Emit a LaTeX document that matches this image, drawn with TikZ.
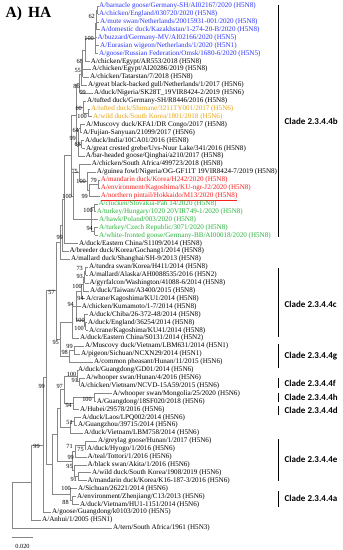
\documentclass[tikz,border=0pt]{standalone}
\usepackage{fontspec}
\setmainfont{Liberation Serif}
\newfontfamily\cladefont{Carlito}
\usetikzlibrary{calc}
\definecolor{cblue}{RGB}{45,55,250}
\definecolor{corange}{RGB}{232,162,20}
\definecolor{cred}{RGB}{250,30,30}
\definecolor{cgreen}{RGB}{40,178,60}
\definecolor{cline}{RGB}{135,135,135}
\newcommand\lf[4]{\node[tx,#3] (L#1) at (#2-0.8,{-(6+7.91*(#1-1))}) {#4};}
\newcommand\tnode[5]{%
  \path let \p1=(#3), \p2=(#4) in (#2pt,{0.5*(\y1+\y2)}) coordinate (#1);%
  \draw[br] (#1 |- #3) -- (#1 |- #4);%
  \foreach \cc in {#5}{\draw[br] (#1 |- \cc) -- (\cc);}%
}
\newcommand\bsv[3]{\node[bs] at (#1,-#2) {#3};}
\newcommand\clade[5]{% name, top, bottom, label y, text
  \coordinate (#1a) at (278,-#2); \coordinate (#1b) at (278,-#3);
  \draw[cbar] (#1a) -- (#1b);
  \node[cl] (#1t) at (284.5,-#4) {#5};}
\begin{document}
\begin{tikzpicture}[x=1pt,y=1pt,
  br/.style={draw=cline, line width=0.5pt},
  tx/.style={font=\fontsize{7.1}{8}\selectfont, anchor=west, inner xsep=0.8pt, inner ysep=0pt, text height=5pt, text depth=1.6pt},
  bs/.style={font=\fontsize{6.3}{7}\selectfont, anchor=east, inner sep=0pt},
  cl/.style={font=\cladefont\bfseries\fontsize{9}{10}\selectfont, anchor=west, inner sep=0pt},
  cbar/.style={draw=black, line width=0.9pt}]
\useasboundingbox (0,0) rectangle (343,-550);
\node[anchor=west, inner sep=0pt, font=\bfseries\fontsize{15.5}{16}\selectfont] (title) at (5.5,-13.5) {A)\hspace{6pt}HA};
% leaves
\lf{1}{99}{cblue}{A/barnacle goose/Germany-SH/AI02167/2020 (H5N8)}
\lf{2}{99}{cblue}{A/chicken/England/030720/2020 (H5N8)}
\lf{3}{100}{cblue}{A/mute swan/Netherlands/20015931-001/2020 (H5N8)}
\lf{4}{100.7}{cblue}{A/domestic duck/Kazakhstan/1-274-20-B/2020 (H5N8)}
\lf{5}{97.3}{cblue}{A/buzzard/Germany-MV/AI02166/2020 (H5N5)}
\lf{6}{100}{cblue}{A/Eurasian wigeon/Netherlands/1/2020 (H5N1)}
\lf{7}{99}{cblue}{A/goose/Russian Federation/Omsk/1680-6/2020 (H5N5)}
\lf{8}{90.7}{}{A/chicken/Egypt/AR553/2018 (H5N8)}
\lf{9}{92}{}{A/chicken/Egypt/AI20286/2019 (H5N8)}
\lf{10}{90}{}{A/chicken/Tatarstan/7/2018 (H5N8)}
\lf{11}{88}{}{A/great black-backed gull/Netherlands/1/2017 (H5N6)}
\lf{12}{94}{}{A/duck/Nigeria/SK28T\_19VIR8424-2/2019 (H5N6)}
\lf{13}{87}{}{A/tufted duck/Germany-SH/R8446/2016 (H5N8)}
\lf{14}{91}{corange}{A/tufted duck/Shimane/3211TY001/2017 (H5N6)}
\lf{15}{93}{corange}{A/wild duck/South Korea/1801/2018 (H5N6)}
\lf{16}{86}{}{A/Muscovy duck/KFA1/DR Congo/2017 (H5N8)}
\lf{17}{83}{}{A/Fujian-Sanyuan/21099/2017 (H5N6)}
\lf{18}{85}{}{A/duck/India/10CA01/2016 (H5N8)}
\lf{19}{86}{}{A/great crested grebe/Uvs-Nuur Lake/341/2016 (H5N8)}
\lf{20}{85.7}{}{A/bar-headed goose/Qinghai/a210/2017 (H5N8)}
\lf{21}{91.7}{}{A/chicken/South Africa/499723/2018 (H5N8)}
\lf{22}{96.7}{}{A/guinea fowl/Nigeria/OG-GF11T 19VIR8424-7/2019 (H5N8)}
\lf{23}{100.7}{cred}{A/mandarin duck/Korea/H242/2020 (H5N8)}
\lf{24}{100.7}{cred}{A/environment/Kagoshima/KU-ngr-J2/2020 (H5N8)}
\lf{25}{100.7}{cred}{\underline{A/northern pintail/Hokkaido/M13/2020 (H5N8)}}
\lf{26}{98.3}{cgreen}{A/chicken/Slovakia-Pah 14/2020 (H5N8)}
\lf{27}{96.7}{cgreen}{A/turkey/Hungary/1020 20VIR749-1/2020 (H5N8)}
\lf{28}{99}{cgreen}{A/hawk/Poland/003/2020 (H5N8)}
\lf{29}{99}{cgreen}{A/turkey/Czech Republic/3071/2020 (H5N8)}
\lf{30}{99}{cgreen}{A/white-fronted goose/Germany-BB/AI00018/2020 (H5N8)}
\lf{31}{79}{}{A/duck/Eastern China/S1109/2014 (H5N8)}
\lf{32}{69.3}{}{A/breeder duck/Korea/Gochang1/2014 (H5N8)}
\lf{33}{71}{}{A/mallard duck/Shanghai/SH-9/2013 (H5N8)}
\lf{34}{89}{}{A/tundra swan/Korea/H411/2014 (H5N8)}
\lf{35}{89}{}{A/mallard/Alaska/AH0088535/2016 (H5N2)}
\lf{36}{89.3}{}{A/gyrfalcon/Washington/41088-6/2014 (H5N8)}
\lf{37}{90}{}{A/duck/Taiwan/A3400/2015 (H5N8)}
\lf{38}{86}{}{A/crane/Kagoshima/KU1/2014 (H5N8)}
\lf{39}{81.7}{}{A/chicken/Kumamoto/1-7/2014 (H5N8)}
\lf{40}{89}{}{A/duck/Chiba/26-372-48/2014 (H5N8)}
\lf{41}{88}{}{A/duck/England/36254/2014 (H5N8)}
\lf{42}{89}{}{A/crane/Kagoshima/KU41/2014 (H5N8)}
\lf{43}{80}{}{A/duck/Eastern China/S0131/2014 (H5N2)}
\lf{44}{85}{}{A/Muscovy duck/Vietnam/LBM631/2014 (H5N1)}
\lf{45}{81}{}{A/pigeon/Sichuan/NCXN29/2014 (H5N1)}
\lf{46}{94}{}{A/common pheasant/Hunan/11/2015 (H5N6)}
\lf{47}{78}{}{A/duck/Guangdong/GD01/2014 (H5N6)}
\lf{48}{86}{}{A/whooper swan/Hunan/4/2016 (H5N6)}
\lf{49}{80}{}{A/chicken/Vietnam/NCVD-15A59/2015 (H5N6)}
\lf{50}{112.7}{}{A/whooper swan/Mongolia/25/2020 (H5N6)}
\lf{51}{96.7}{}{A/Guangdong/18SF020/2018 (H5N6)}
\lf{52}{80}{}{A/Hubei/29578/2016 (H5N6)}
\lf{53}{82}{}{A/duck/Laos/LPQ002/2014 (H5N6)}
\lf{54}{78}{}{A/Guangzhou/39715/2014 (H5N6)}
\lf{55}{84}{}{A/duck/Vietnam/LBM758/2014 (H5N6)}
\lf{56}{98}{}{A/greylag goose/Hunan/1/2017 (H5N6)}
\lf{57}{87}{}{A/duck/Hyogo/1/2016 (H5N6)}
\lf{58}{87.5}{}{A/teal/Tottori/1/2016 (H5N6)}
\lf{59}{87.5}{}{A/black swan/Akita/1/2016 (H5N6)}
\lf{60}{92}{}{A/wild duck/South Korea/1908/2019 (H5N6)}
\lf{61}{87.5}{}{A/mandarin duck/Korea/K16-187-3/2016 (H5N6)}
\lf{62}{78}{}{A/Sichuan/26221/2014 (H5N6)}
\lf{63}{77}{}{A/environment/Zhenjiang/C13/2013 (H5N6)}
\lf{64}{80}{}{A/duck/Vietnam/HU1-1151/2014 (H5N6)}
\lf{65}{52}{}{A/goose/Guangdong/k0103/2010 (H5N5)}
\lf{66}{42}{}{A/Anhui/1/2005 (H5N1)}
\lf{67}{113}{}{A/tern/South Africa/1961 (H5N3)}
% internal nodes (clade 2.3.4.4b)
\tnode{Nab}{97.5}{L1}{L2}{L1,L2}
\tnode{N62}{96.5}{Nab}{L3}{Nab,L3}
\tnode{N4}{96}{N62}{L4}{N62,L4}
\tnode{NB100}{95}{N4}{L7}{N4,L5,L6,L7}
\tnode{N68}{85}{NB100}{L8}{NB100,L8}
\tnode{N55}{82.5}{N68}{L10}{N68,L9,L10}
\tnode{N86}{81}{N55}{L11}{N55,L11}
\tnode{NNg}{79.5}{N86}{L12}{N86,L12}
\tnode{NB100b}{88}{L14}{L15}{L14,L15}
\tnode{N60}{83}{L13}{NB100b}{L13,NB100b}
\tnode{N64}{80}{L16}{L17}{L16,L17}
\tnode{N68b}{81.5}{L18}{L19}{L18,L19}
\tnode{N99c}{78.5}{N64}{N68b}{N64,N68b}
\tnode{NBA}{78}{N99c}{L20}{N99c,L20}
\tnode{Bup}{76.5}{NNg}{NBA}{NNg,N60,NBA}
\tnode{R1}{98.2}{L23}{L24}{L23,L24}
\tnode{R2}{89.3}{R1}{L25}{R1,L25}
\tnode{N87}{87}{L22}{R2}{L22,R2}
\tnode{N79}{79}{L21}{N87}{L21,N87}
\tnode{G2}{94}{L26}{L27}{L26,L27}
\tnode{G1}{94.5}{L29}{L30}{L29,L30}
\tnode{Gr}{91}{G2}{G1}{G2,L28,G1}
\tnode{N73}{73}{N79}{Gr}{N79,Gr}
\tnode{Broot}{71}{Bup}{N73}{Bup,N73}
\tnode{X99}{64}{Broot}{L31}{Broot,L31}
\tnode{Xbr}{62}{X99}{L32}{X99,L32}
\tnode{Xsh}{60}{Xbr}{L33}{Xbr,L33}
% clade c and g
\tnode{N73c}{85.5}{L34}{L35}{L34,L35}
\tnode{N93c}{84.5}{N73c}{L36}{N73c,L36}
\tnode{N100c}{83}{N93c}{L37}{N93c,L37}
\tnode{N94a}{81}{N100c}{L38}{N100c,L38}
\tnode{N100e}{85.5}{L41}{L42}{L41,L42}
\tnode{N100d}{84}{L40}{N100e}{L40,N100e}
\tnode{N94b}{76}{N94a}{N100d}{N94a,L39,N100d}
\tnode{Cr}{72}{N94b}{L43}{N94b,L43}
\tnode{N99g}{74}{L44}{L45}{L44,L45}
\tnode{N98}{69}{N99g}{L46}{N99g,L46}
\tnode{N95}{60}{Cr}{N98}{Cr,N98}
\tnode{N57}{56}{Xsh}{N95}{Xsh,N95}
% lower clades
\tnode{Nf}{79}{L48}{L49}{L48,L49}
\tnode{N100x}{77}{L47}{Nf}{L47,Nf}
\tnode{Nh}{94}{L50}{L51}{L50,L51}
\tnode{N94d}{73}{Nh}{L52}{Nh,L52}
\tnode{N97}{64}{N100x}{N94d}{N100x,N94d}
\tnode{N51}{74}{L53}{L54}{L53,L54}
\tnode{Nd2}{70}{N51}{L55}{N51,L55}
\tnode{Nfhd}{60}{N97}{Nd2}{N97,Nd2}
\tnode{N75e}{85}{L56}{L57}{L56,L57}
\tnode{N71e}{75}{N75e}{L58}{N75e,L58}
\tnode{N91e}{78}{L60}{L61}{L60,L61}
\tnode{N95e}{74}{L59}{N91e}{L59,N91e}
\tnode{N99e}{72}{N71e}{N95e}{N71e,N95e}
\tnode{Lup}{57}{Nfhd}{N99e}{Nfhd,N99e}
\tnode{N88a}{72}{L63}{L64}{L63,L64}
\tnode{N100a}{70}{L62}{N88a}{L62,N88a}
\tnode{Lwr}{52}{Lup}{N100a}{Lup,N100a}
\tnode{R2344}{46}{N57}{Lwr}{N57,Lwr}
\tnode{N99gg}{43}{R2344}{L65}{R2344,L65}
\tnode{Nanh}{31}{N99gg}{L66}{N99gg,L66}
\tnode{Nroot}{12}{Nanh}{L67}{Nanh,L67}
% support values
\bsv{95}{16}{62}
\bsv{94}{38}{100}
\bsv{83}{61}{68}
\bsv{81}{70}{55}
\bsv{80}{86}{86}
\bsv{86}{92}{99}
\bsv{82}{108}{60}
\bsv{87}{116}{100}
\bsv{79}{130.5}{64}
\bsv{76}{138.5}{99}
\bsv{81}{144}{68}
\bsv{78}{171}{75}
\bsv{86}{181}{100}
\bsv{97}{180}{79}
\bsv{72}{196}{100}
\bsv{88}{196}{99}
\bsv{93}{210}{100}
\bsv{93}{228}{94}
\bsv{63}{237}{99}
\bsv{83}{268}{73}
\bsv{83}{276}{93}
\bsv{82}{286}{100}
\bsv{55}{292}{57}
\bsv{84}{298}{94}
\bsv{74}{304}{94}
\bsv{85}{320}{100}
\bsv{84}{328}{100}
\bsv{59}{342}{95}
\bsv{73}{346}{99}
\bsv{68}{352}{98}
\bsv{76.5}{374.5}{100}
\bsv{78}{380.5}{91}
\bsv{45}{386}{99}
\bsv{63}{386}{97}
\bsv{92}{399}{100}
\bsv{72}{405}{94}
\bsv{73}{422}{51}
\bsv{40}{446}{99}
\bsv{73}{446}{71}
\bsv{84}{449}{75}
\bsv{74}{457}{99}
\bsv{73}{466}{95}
\bsv{77}{479}{91}
\bsv{71}{488}{100}
\bsv{69}{502}{88}
% clade bars
\clade{cb}{5}{237}{121}{Clade 2.3.4.4b}
\clade{cc}{268}{337}{304}{Clade 2.3.4.4c}
\clade{cg}{344}{368}{356}{Clade 2.3.4.4g}
\clade{cf}{378}{388}{383}{Clade 2.3.4.4f}
\clade{ch}{393}{402}{397}{Clade 2.3.4.4h}
\clade{cd}{406}{415}{410}{Clade 2.3.4.4d}
\clade{ce}{439}{481}{459}{Clade 2.3.4.4e}
\clade{ca}{491}{507}{498}{Clade 2.3.4.4a}
% scale bar
\coordinate (sb1) at (12,-537);
\coordinate (sb2) at (33,-537);
\draw[br] (sb1) -- (sb2);
\node[font=\fontsize{6.3}{7}\selectfont, inner sep=0pt] (sbl) at (22.5,-546) {0.020};
\end{tikzpicture}
\end{document}
